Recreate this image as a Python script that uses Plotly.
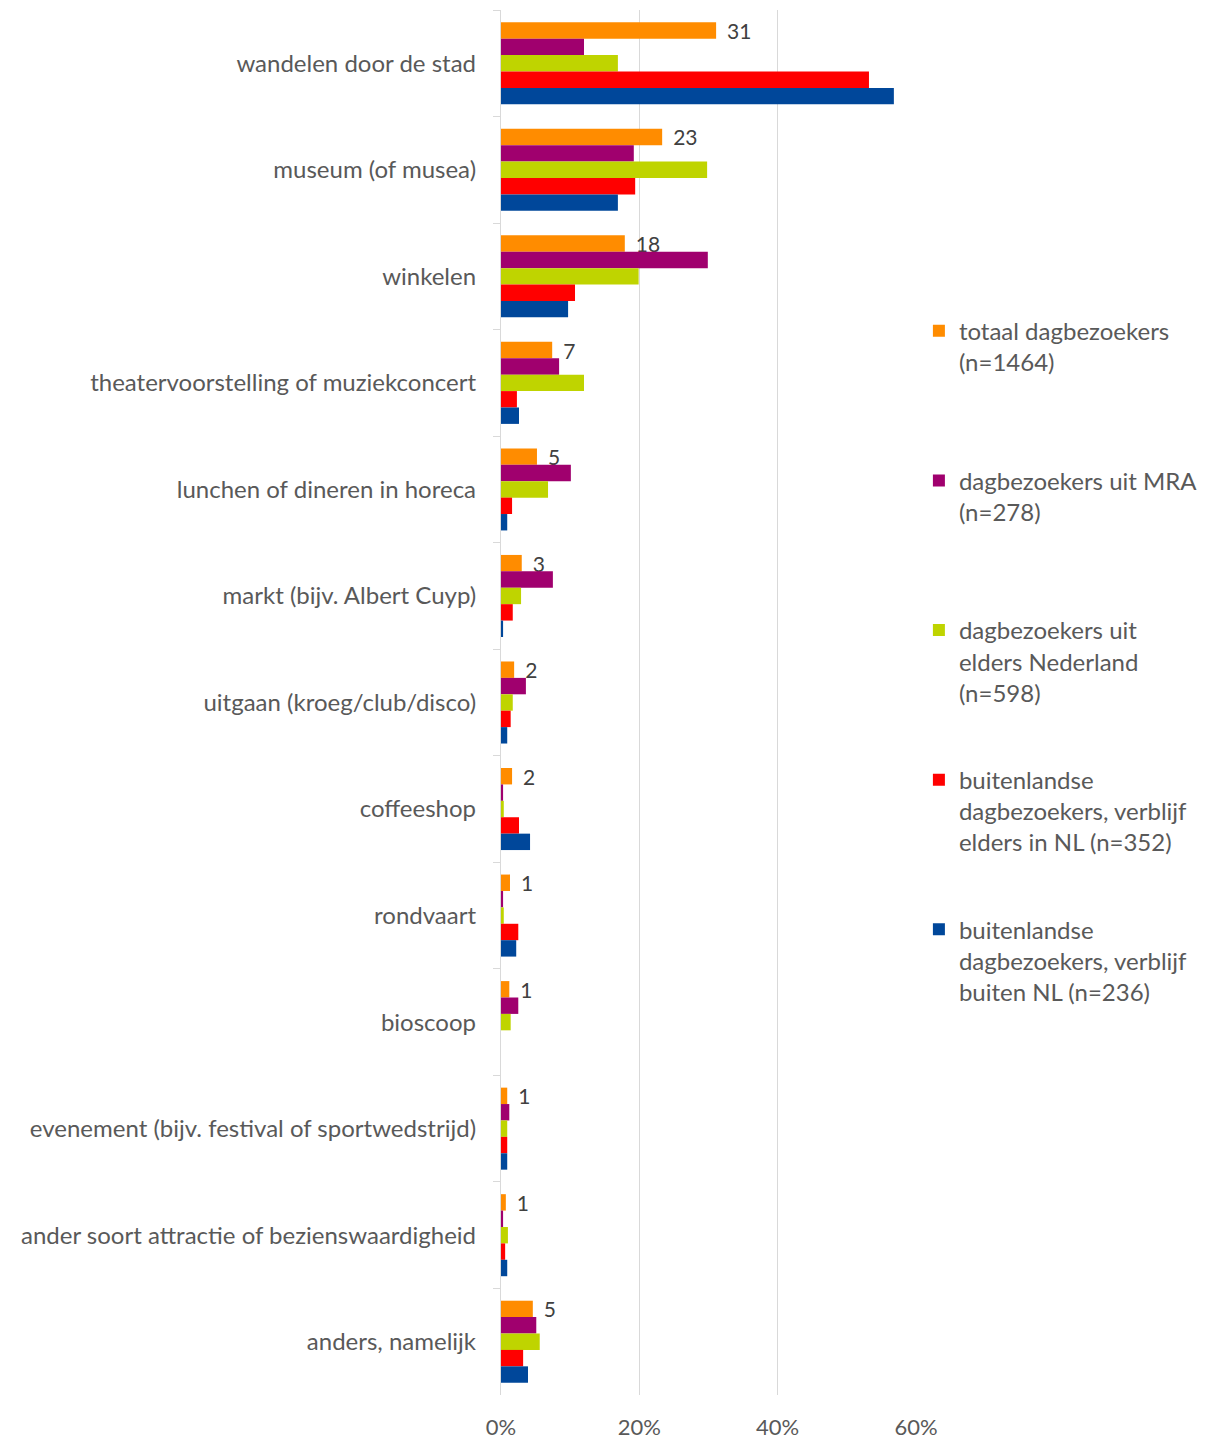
import plotly.graph_objects as go

categories = [
    "wandelen door de stad",
    "museum (of musea)",
    "winkelen",
    "theatervoorstelling of muziekconcert",
    "lunchen of dineren in horeca",
    "markt (bijv. Albert Cuyp)",
    "uitgaan (kroeg/club/disco)",
    "coffeeshop",
    "rondvaart",
    "bioscoop",
    "evenement (bijv. festival of sportwedstrijd)",
    "ander soort attractie of bezienswaardigheid",
    "anders, namelijk",
]

totaal = [31.1, 23.3, 17.9, 7.4, 5.2, 3.0, 1.9, 1.6, 1.3, 1.2, 0.9, 0.7, 4.6]
mra = [12.0, 19.2, 29.9, 8.4, 10.1, 7.5, 3.6, 0.3, 0.3, 2.5, 1.2, 0.3, 5.1]
elders_nl = [16.9, 29.8, 19.9, 12.0, 6.8, 2.9, 1.7, 0.4, 0.4, 1.4, 0.9, 1.0, 5.6]
buitenl_nl = [53.2, 19.4, 10.7, 2.3, 1.6, 1.7, 1.4, 2.6, 2.5, 0.0, 0.9, 0.6, 3.2]
buitenl_buiten = [56.8, 16.9, 9.7, 2.6, 0.9, 0.3, 0.9, 4.2, 2.2, 0.0, 0.9, 0.9, 3.9]

totaal_labels = ["31", "23", "18", "7", "5", "3", "2", "2", "1", "1", "1", "1", "5"]

series_names = [
    "totaal dagbezoekers<br>(n=1464)<br> ",
    "dagbezoekers uit MRA<br>(n=278)<br> ",
    "dagbezoekers uit<br>elders Nederland<br>(n=598)",
    "buitenlandse<br>dagbezoekers, verblijf<br>elders in NL (n=352)",
    "buitenlandse<br>dagbezoekers, verblijf<br>buiten NL (n=236)",
]
series_values = [totaal, mra, elders_nl, buitenl_nl, buitenl_buiten]
colors = ["#FF8C00", "#A0006E", "#BFD400", "#FF0000", "#00479A"]

FONT = "Lato"
TXT = "#595959"

fig = go.Figure()
for i, (name, vals, col) in enumerate(zip(series_names, series_values, colors)):
    kw = {}
    if i == 0:
        kw = dict(text=totaal_labels, texttemplate="\u00a0\u2009%{text}",
                  textposition="outside",
                  textfont=dict(family=FONT, size=21, color="#404040"),
                  constraintext="none", cliponaxis=False)
    fig.add_trace(go.Bar(
        y=categories, x=vals, name=name, orientation="h",
        marker=dict(color=col, line=dict(width=0)),
        legendgroup=f"g{i}", **kw))

fig.update_layout(
    width=1218, height=1441,
    barmode="group", bargap=0.23, bargroupgap=0,
    plot_bgcolor="white", paper_bgcolor="white",
    margin=dict(l=493, r=310, t=2, b=54),
    font=dict(family=FONT, size=24, color=TXT),
    showlegend=True,
    legend=dict(x=1.007, y=0.7843, xanchor="left", yanchor="top",
                font=dict(family=FONT, size=24, color=TXT),
                tracegroupgap=53, valign="top", itemwidth=30,
                traceorder="grouped"),
    xaxis=dict(range=[0, 60], dtick=20, ticksuffix="%",
               showgrid=True, gridcolor="#D9D9D9", gridwidth=1.3,
               zeroline=False, showline=False,
               ticks="", ticklabelstandoff=17,
               tickfont=dict(family=FONT, size=22, color=TXT)),
    yaxis=dict(autorange="reversed", showline=True, linecolor="#D9D9D9", linewidth=1.3,
               ticks="outside", tickson="boundaries", ticklen=7, tickcolor="#D9D9D9",
               ticklabelstandoff=19, showgrid=False,
               tickfont=dict(family=FONT, size=24, color=TXT)),
)

fig.write_html("out.html")
